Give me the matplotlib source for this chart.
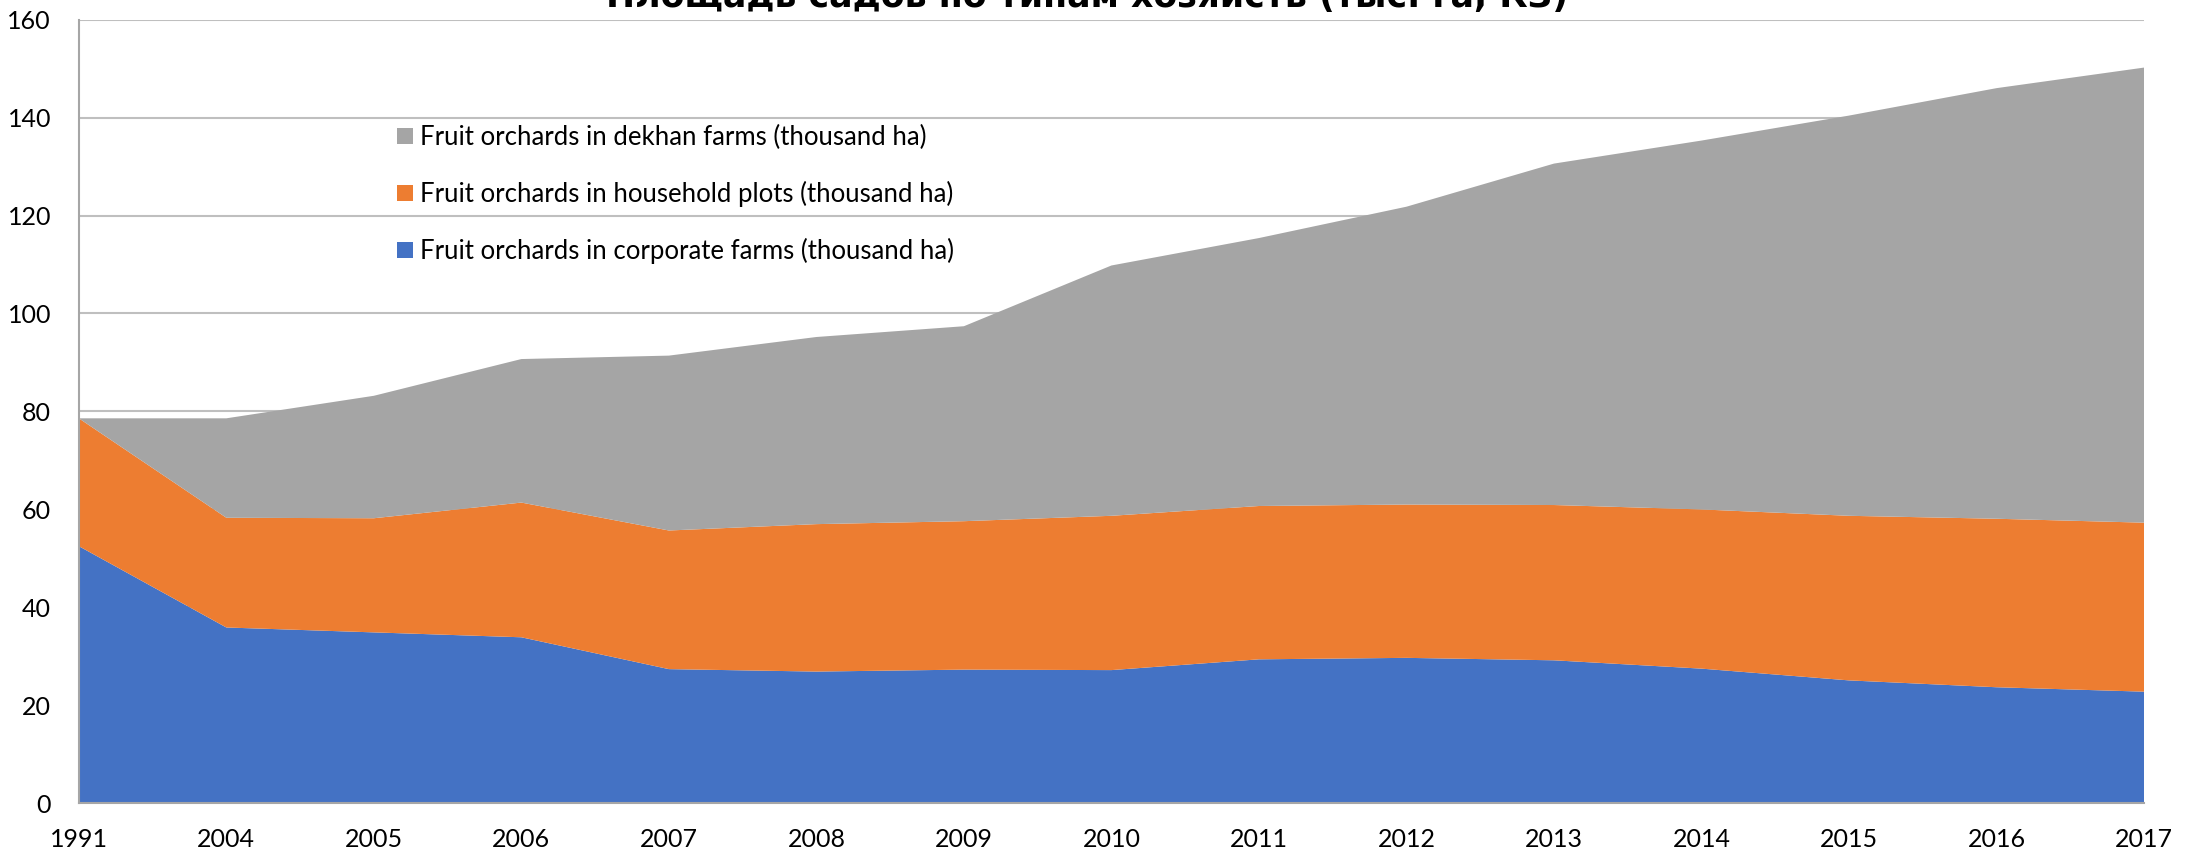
import matplotlib
matplotlib.use("Agg")
import matplotlib.pyplot as plt
import numpy as np

years = ['1991', '2004', '2005', '2006', '2007', '2008', '2009', '2010',
         '2011', '2012', '2013', '2014', '2015', '2016', '2017']
corporate = [52.5, 35.9, 34.9, 33.9, 27.4, 26.9, 27.3, 27.2, 29.4, 29.7, 29.2, 27.5, 25.1, 23.7, 22.8]
household = [26.1, 22.4, 23.3, 27.5, 28.3, 30.1, 30.3, 31.5, 31.3, 31.3, 31.7, 32.5, 33.6, 34.4, 34.5]
dekhan = [0.0, 20.3, 25.0, 29.3, 35.7, 38.2, 39.8, 51.1, 54.7, 60.8, 69.7, 75.3, 81.7, 87.9, 92.9]

labels = ['Fruit orchards in corporate farms (thousand ha)',
          'Fruit orchards in household plots (thousand ha)',
          'Fruit orchards in dekhan farms (thousand ha)']
colors = ['#4472C4', '#ED7D31', '#A5A5A5']
title = 'Площадь садов по типам хозяйств (тыс. га, КЗ)'

plt.rcParams['font.family'] = ['Lato', 'DejaVu Sans']

fig = plt.figure(figsize=(21.9, 8.51), dpi=100)
ax = fig.add_axes([0.036, 0.056, 0.943, 0.921])

x = np.arange(len(years))
polys = ax.stackplot(x, corporate, household, dekhan, colors=colors, labels=labels, zorder=2)

ax.set_xlim(0, len(years) - 1)
ax.set_ylim(0, 160)
ax.set_yticks(np.arange(0, 161, 20))
ax.set_xticks(x)
ax.set_xticklabels(years)
ax.yaxis.grid(True, color='#BFBFBF', linewidth=1.5, zorder=1)
ax.set_axisbelow(True)
for s in ['top', 'right']:
    ax.spines[s].set_visible(False)
for s in ['left', 'bottom']:
    ax.spines[s].set_color('#A6A6A6')
    ax.spines[s].set_linewidth(1.5)
    ax.spines[s].set_zorder(3)
ax.tick_params(axis='both', length=0, labelsize=18, colors='black')
ax.tick_params(axis='x', pad=18)
ax.tick_params(axis='y', pad=20)

handles, labs = ax.get_legend_handles_labels()
leg = ax.legend(handles[::-1], labs[::-1], loc='upper left',
                bbox_to_anchor=(0.143, 0.895), frameon=False, fontsize=18.5,
                handlelength=0.6, handleheight=0.6, handletextpad=0.3,
                labelspacing=1.2)

fig.text(0.4966, 0.9912, title, ha='center', va='baseline', fontsize=25,
         fontweight='bold', family=['Liberation Sans Narrow', 'DejaVu Sans'])

fig.savefig('out.png', dpi=100)
